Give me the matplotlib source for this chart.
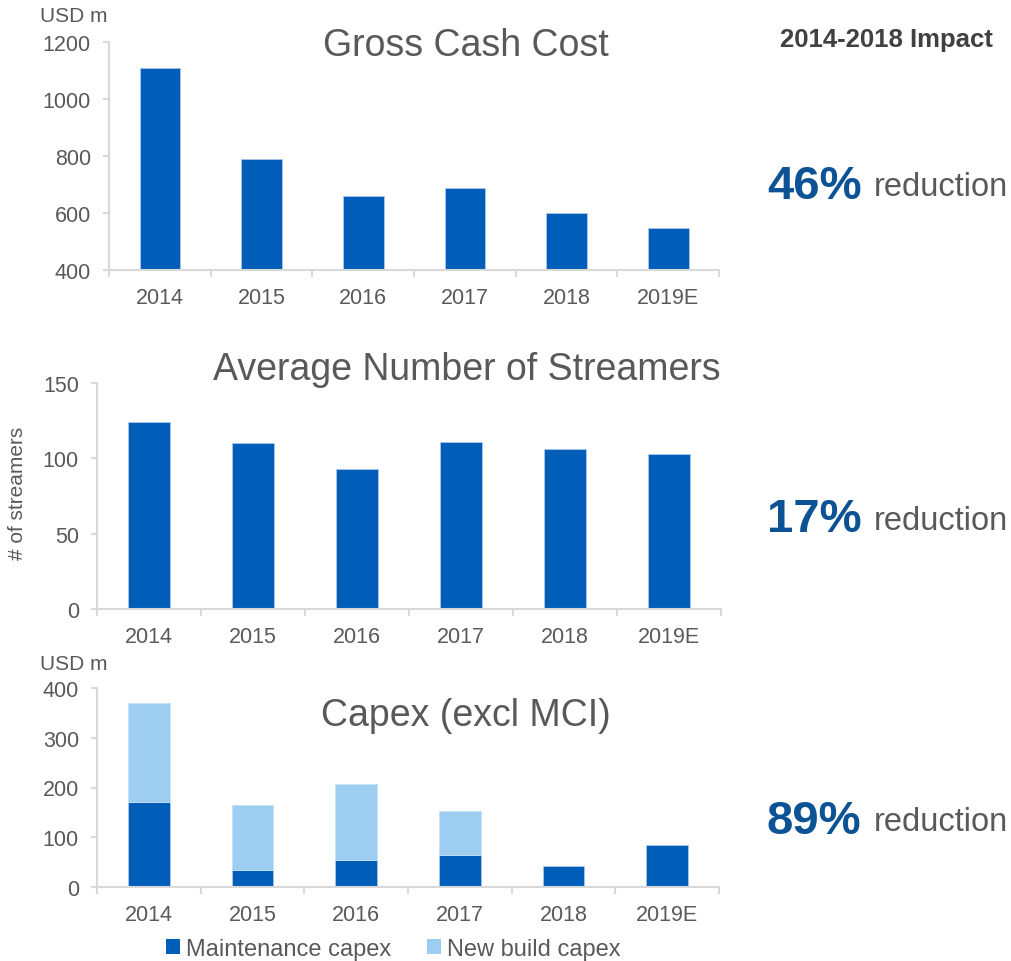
import matplotlib
matplotlib.use("Agg")
import matplotlib.pyplot as plt
import numpy as np
from matplotlib.patches import Patch

plt.rcParams['font.family'] = ['Liberation Sans', 'DejaVu Sans']

years = ["2014", "2015", "2016", "2017", "2018", "2019E"]
gross_cash_cost = [1108, 789, 658, 688, 600, 547]
streamers = [124, 110, 93, 111, 106, 103]
maint_capex = [171, 35, 54, 64, 42, 84]
newbuild_capex = [199, 130, 153, 89, 0, 0]
impacts = ["46%", "17%", "89%"]

DARK = "#005EB8"
LIGHT = "#9DCEF2"
GREY = "#595959"
SPINE = "#D9D9D9"
PCT = "#0B5394"

W, H = 1011, 962
fig = plt.figure(figsize=(W / 100, H / 100), dpi=100)


def add_ax(left, right, top, bottom):
    return fig.add_axes([left / W, (H - bottom) / H, (right - left) / W, (bottom - top) / H])


def style(ax, ylim, yticks):
    x = np.arange(len(years))
    ax.set_xlim(-0.5, len(years) - 0.5)
    ax.set_ylim(*ylim)
    ax.set_yticks(yticks)
    ax.set_xticks(x)
    ax.set_xticklabels(years)
    ax.set_xticks(np.arange(-0.5, len(years)), minor=True)
    for s in ["top", "right"]:
        ax.spines[s].set_visible(False)
    for s in ["left", "bottom"]:
        ax.spines[s].set_color(SPINE)
        ax.spines[s].set_linewidth(1.5)
    ax.tick_params(axis="x", which="major", length=0, pad=12, labelsize=15.5, labelcolor=GREY)
    ax.tick_params(axis="x", which="minor", length=5, width=1.5, color=SPINE, direction="out")
    ax.tick_params(axis="y", length=4, width=1.5, color=SPINE, pad=9, labelsize=15.5, labelcolor=GREY)
    ax.set_facecolor("none")


x = np.arange(len(years))
bw = 0.4

# Panel 1
ax1 = add_ax(109, 719, 43, 271)
ax1.bar(x, gross_cash_cost, width=bw, color=DARK, edgecolor="#A9C8EA", linewidth=0.6)
style(ax1, (400, 1200), [400, 600, 800, 1000, 1200])
fig.text(40 / W, 1 - 17 / H, "USD m", fontsize=15, color=GREY, va="center", ha="left")
fig.text(466 / W, 1 - 46 / H, "Gross Cash Cost", fontsize=27, color=GREY, va="center", ha="center")

# Panel 2
ax2 = add_ax(97, 721, 384, 610)
ax2.bar(x, streamers, width=bw, color=DARK, edgecolor="#A9C8EA", linewidth=0.6)
style(ax2, (0, 150), [0, 50, 100, 150])
fig.text(18 / W, 1 - 493 / H, "# of streamers", fontsize=15, color=GREY, va="center", ha="center", rotation=90)
fig.text(467 / W, 1 - 370 / H, "Average Number of Streamers", fontsize=27, color=GREY, va="center", ha="center")

# Panel 3
ax3 = add_ax(97, 719, 689, 888)
ax3.bar(x, maint_capex, width=bw, color=DARK, edgecolor="#A9C8EA", linewidth=0.6)
nb = np.array(newbuild_capex)
mask = nb > 0
ax3.bar(x[mask], nb[mask], width=bw, bottom=np.array(maint_capex)[mask], color=LIGHT,
        edgecolor="#C5E2F7", linewidth=0.6)
style(ax3, (0, 400), [0, 100, 200, 300, 400])
fig.text(40 / W, 1 - 664 / H, "USD m", fontsize=15, color=GREY, va="center", ha="left")
fig.text(466 / W, 1 - 716 / H, "Capex (excl MCI)", fontsize=27, color=GREY, va="center", ha="center")

handles = [Patch(facecolor=DARK, edgecolor="none", label="Maintenance capex"),
           Patch(facecolor=LIGHT, edgecolor="none", label="New build capex")]
fig.legend(handles=handles, loc="center", bbox_to_anchor=(393 / W, 1 - 950 / H), ncol=2,
           frameon=False, fontsize=17, handlelength=0.6, handleheight=0.6, handletextpad=0.25,
           columnspacing=1.5, labelcolor=GREY, borderpad=0)

# Right side impacts
fig.text(886 / W, 1 - 40 / H, "2014-2018 Impact", fontsize=18.5, fontweight="bold", color="#404040",
         va="center", ha="center")
for pct, yc in zip(impacts, [187, 520, 822]):
    fig.text(767 / W, 1 - yc / H, pct, fontsize=34, fontweight="bold", color=PCT,
             va="center", ha="left")
    fig.text(874 / W, 1 - (yc + 1) / H, "reduction", fontsize=23.5, color=GREY, va="center", ha="left")

fig.savefig("out.png", dpi=100, facecolor="white")
